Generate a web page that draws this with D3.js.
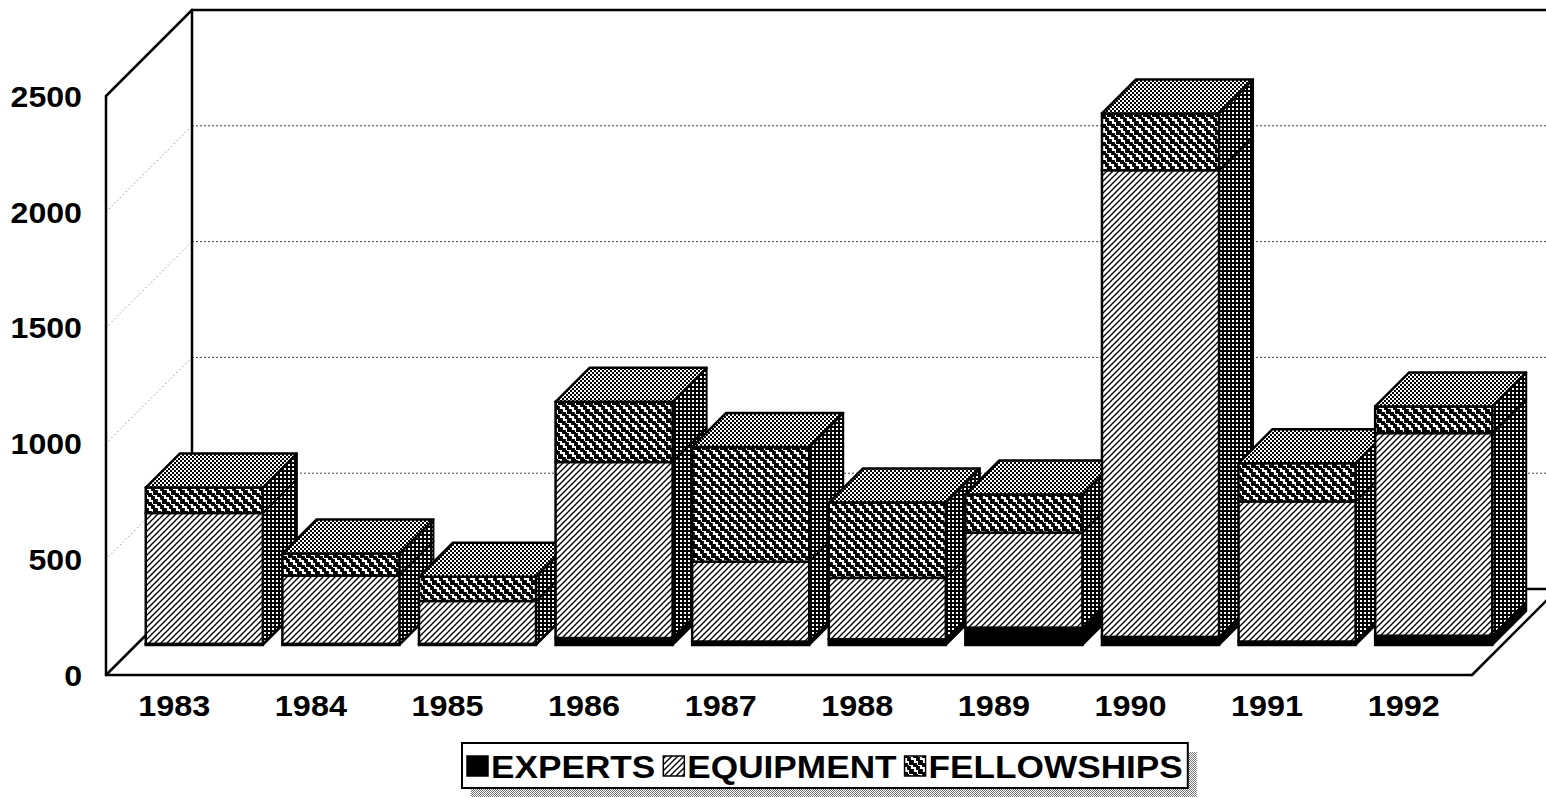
<!DOCTYPE html>
<html>
<head>
<meta charset="utf-8">
<script src="https://cdn.jsdelivr.net/npm/d3@7"></script>
<style>
  body { margin: 0; background: #fff; }
  svg text { font-family: "Liberation Sans", Arial, Helvetica, sans-serif; font-weight: bold; fill: #000; }
</style>
</head>
<body>
<svg id="chart" width="1546" height="798"></svg>
<script>
// data
const years = ['1983', '1984', '1985', '1986', '1987', '1988', '1989', '1990', '1991', '1992'];
const experts = [5, 5, 5, 30, 15, 25, 75, 35, 15, 40];
const equipment = [565, 295, 185, 760, 345, 265, 410, 2015, 605, 875];
const fellowships = [110, 95, 105, 260, 495, 325, 165, 245, 165, 115];
const yTicks = [0, 500, 1000, 1500, 2000, 2500];
const seriesNames = ['EXPERTS', 'EQUIPMENT', 'FELLOWSHIPS'];

const svg = d3.select('#chart');

// 3d box: walls go 86px back, bars sit 30px in and are 34px deep
const depth = 86;
const barFront = 30;
const barDepth = 34;

const xScale = d3.scaleBand()
  .domain(years)
  .range([106, 1472])
  .paddingInner(0.143)
  .paddingOuter(0.0715);

const yScale = d3.scaleLinear()
  .domain([0, 2500])
  .range([675, 96]);

const bw = xScale.bandwidth();
const x0 = xScale.range()[0], x1 = xScale.range()[1];
const yTop = yScale(2500), yBase = yScale(0);

// the scan is a bit wider than the font, stretch text a little
const stretch = (sel, k) => sel.each(function () {
  const w = this.getComputedTextLength();
  d3.select(this).attr('textLength', w * k).attr('lengthAdjust', 'spacingAndGlyphs');
});

// patterns
const defs = svg.append('defs');

const hatch = defs.append('pattern').attr('id', 'hatch')
  .attr('patternUnits', 'userSpaceOnUse').attr('width', 6).attr('height', 6);
hatch.append('rect').attr('width', 6).attr('height', 6).attr('fill', '#fff');
hatch.append('path').attr('d', 'M0,6 L6,0 M-1,1 L1,-1 M5,7 L7,5')
  .attr('stroke', '#000').attr('stroke-width', 1.4);

const zig = defs.append('pattern').attr('id', 'zig')
  .attr('patternUnits', 'userSpaceOnUse').attr('width', 9).attr('height', 9);
zig.append('rect').attr('width', 9).attr('height', 9).attr('fill', '#000');
zig.append('path').attr('d', 'M-3,-3 h3 v3 h3 v3 h3 v3 h3 v3 h3')
  .attr('fill', 'none').attr('stroke', '#fff').attr('stroke-width', 2.2)
  .attr('stroke-linejoin', 'miter');

const topPat = defs.append('pattern').attr('id', 'topface')
  .attr('patternUnits', 'userSpaceOnUse').attr('width', 4).attr('height', 4);
topPat.append('rect').attr('width', 4).attr('height', 4).attr('fill', '#fff');
topPat.append('rect').attr('width', 2).attr('height', 2).attr('fill', '#000');
topPat.append('rect').attr('x', 2).attr('y', 2).attr('width', 2).attr('height', 2).attr('fill', '#000');

const sidePat = defs.append('pattern').attr('id', 'sideface')
  .attr('patternUnits', 'userSpaceOnUse').attr('width', 4).attr('height', 4);
sidePat.append('rect').attr('width', 4).attr('height', 4).attr('fill', '#000');
sidePat.append('rect').attr('width', 2).attr('height', 2).attr('fill', '#fff');

const shade = defs.append('pattern').attr('id', 'shade')
  .attr('patternUnits', 'userSpaceOnUse').attr('width', 2).attr('height', 2);
shade.append('rect').attr('width', 2).attr('height', 2).attr('fill', '#fff');
shade.append('rect').attr('width', 1).attr('height', 1).attr('fill', '#777');
shade.append('rect').attr('x', 1).attr('y', 1).attr('width', 1).attr('height', 1).attr('fill', '#777');

const fills = { EXPERTS: '#000', EQUIPMENT: 'url(#hatch)', FELLOWSHIPS: 'url(#zig)' };

// walls and floor
const walls = svg.append('g');

// dotted grid on back wall and left wall
yTicks.filter(d => d > 0 && d < 2500).forEach(v => {
  const y = yScale(v);
  walls.append('line')
    .attr('x1', x0 + depth).attr('y1', y - depth)
    .attr('x2', x1 + depth + 20).attr('y2', y - depth)
    .attr('stroke', '#444').attr('stroke-width', 1).attr('stroke-dasharray', '2,2');
  walls.append('line')
    .attr('x1', x0).attr('y1', y)
    .attr('x2', x0 + depth).attr('y2', y - depth)
    .attr('stroke', '#666').attr('stroke-width', 1).attr('stroke-dasharray', '1,3');
});

const solid = (a, b, c, d) => walls.append('line')
  .attr('x1', a).attr('y1', b).attr('x2', c).attr('y2', d)
  .attr('stroke', '#000').attr('stroke-width', 2.5).attr('stroke-linecap', 'round');

solid(x0 + depth, yTop - depth, x1 + depth + 20, yTop - depth);   // top of back wall
solid(x0 + depth, yBase - depth, x1 + depth + 20, yBase - depth); // back of floor
solid(x0 + depth, yTop - depth, x0 + depth, yBase - depth);       // back corner
solid(x0, yTop, x0, yBase);                                       // front left edge
solid(x0, yTop, x0 + depth, yTop - depth);
solid(x0, yBase, x0 + depth, yBase - depth);
solid(x0, yBase, x1, yBase);                                      // floor front
solid(x1, yBase, x1 + depth, yBase - depth);

// stacked bars
const table = years.map((y, i) => ({
  year: y, EXPERTS: experts[i], EQUIPMENT: equipment[i], FELLOWSHIPS: fellowships[i]
}));
const stacked = d3.stack().keys(seriesNames)(table);

const bars = svg.append('g');

years.forEach((year, i) => {
  const g = bars.append('g');
  const left = xScale(year) + barFront;
  const right = left + bw;

  stacked.forEach((series, k) => {
    const seg = series[i];
    const yt = yScale(seg[1]) - barFront;
    const yb = yScale(seg[0]) - barFront;
    const isExpert = series.key === 'EXPERTS';

    g.append('polygon')
      .attr('points', [[right, yb], [right + barDepth, yb - barDepth],
                       [right + barDepth, yt - barDepth], [right, yt]].join(' '))
      .attr('fill', isExpert ? '#000' : 'url(#sideface)')
      .attr('stroke', '#000').attr('stroke-width', 2).attr('stroke-linejoin', 'round');

    g.append('rect')
      .attr('x', left).attr('y', yt)
      .attr('width', bw).attr('height', Math.max(0, yb - yt))
      .attr('fill', fills[series.key])
      .attr('stroke', '#000').attr('stroke-width', 2.5);

    if (k === stacked.length - 1) {
      g.append('polygon')
        .attr('points', [[left, yt], [left + barDepth, yt - barDepth],
                         [right + barDepth, yt - barDepth], [right, yt]].join(' '))
        .attr('fill', 'url(#topface)')
        .attr('stroke', '#000').attr('stroke-width', 2.5).attr('stroke-linejoin', 'round');
    }
  });
});

// y labels
svg.append('g').selectAll('text')
  .data(yTicks)
  .enter()
  .append('text')
  .attr('x', 82)
  .attr('y', d => yScale(d))
  .attr('dy', '0.36em')
  .attr('text-anchor', 'end')
  .style('font-size', '30px')
  .text(d => d)
  .call(stretch, 1.07);

// year labels
svg.append('g').selectAll('text')
  .data(years)
  .enter()
  .append('text')
  .attr('x', d => xScale(d) + bw / 2)
  .attr('y', 716)
  .attr('text-anchor', 'middle')
  .style('font-size', '30px')
  .text(d => d)
  .call(stretch, 1.08);

// legend
const legend = svg.append('g');
const shadowRect = legend.append('rect').attr('fill', 'url(#shade)');
const boxRect = legend.append('rect').attr('fill', '#fff').attr('stroke', '#000').attr('stroke-width', 2);

let cx = 467;
seriesNames.forEach(name => {
  legend.append('rect')
    .attr('x', cx).attr('y', 756).attr('width', 21).attr('height', 20)
    .attr('fill', fills[name]).attr('stroke', '#000').attr('stroke-width', 1.5);
  const t = legend.append('text')
    .attr('x', cx + 24).attr('y', 778)
    .style('font-size', '32px')
    .text(name)
    .call(stretch, 1.1);
  cx += 24 + +t.attr('textLength') + 8;
});

const boxX = 462, boxY = 743, boxW = cx - 8 + 5 - boxX, boxH = 45;
boxRect.attr('x', boxX).attr('y', boxY).attr('width', boxW).attr('height', boxH);
shadowRect.attr('x', boxX + 9).attr('y', boxY + 9).attr('width', boxW).attr('height', boxH);
</script>
</body>
</html>
